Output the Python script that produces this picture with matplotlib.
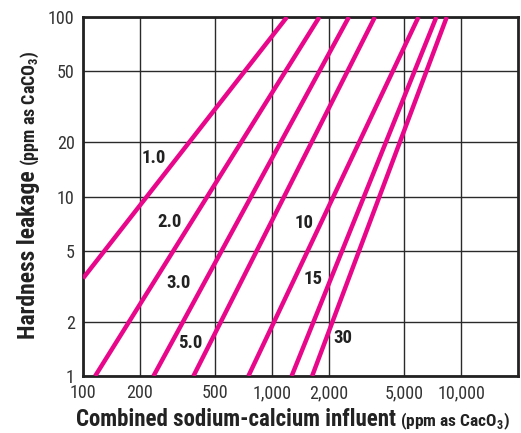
import matplotlib
matplotlib.use('Agg')
import matplotlib.pyplot as plt
from matplotlib import font_manager
from matplotlib.ticker import NullLocator

# pick a narrow sans if one is installed
names = {f.name for f in font_manager.fontManager.ttflist}
narrow = next((n for n in ['Liberation Sans Narrow', 'DejaVu Sans Condensed', 'Roboto Condensed']
               if n in names), 'Liberation Sans')
plt.rcParams['font.family'] = [narrow, 'DejaVu Sans']
plt.rcParams['mathtext.fontset'] = 'custom'
plt.rcParams['mathtext.rm'] = narrow
plt.rcParams['mathtext.bf'] = narrow + ':bold'

# one line per level, end points
levels = ['1.0', '2.0', '3.0', '5.0', '10', '15', '30']
x_start = [100, 116, 236, 384, 750, 1270, 1630]
y_start = [3.5, 1, 1, 1, 1, 1, 1]
x_end = [1200, 1780, 2550, 3500, 5950, 7400, 8400]
y_end = [100, 100, 100, 100, 100, 100, 100]
label_x = [236, 286, 322, 370, 1480, 1650, 2380]
label_y = [16.4, 7.2, 3.3, 1.53, 7.1, 3.47, 1.62]

xticks = [100, 200, 500, 1000, 2000, 5000, 10000]
xticklabels = ['100', '200', '500', '1,000', '2,000', '5,000', '10,000']
yticks = [1, 2, 5, 10, 20, 50, 100]
yticklabels = ['1', '2', '5', '10', '20', '50', '100']

W, H = 521, 433
fig = plt.figure(figsize=(W / 100, H / 100), dpi=100)
ax = fig.add_axes([83 / W, 1 - 376 / H, 435 / W, 359 / H])
ax.set_xscale('log')
ax.set_yscale('log')
ax.set_xlim(100, 20000)
ax.set_ylim(1, 100)

ax.set_xticks(xticks)
ax.set_xticklabels(xticklabels)
ax.set_yticks(yticks)
ax.set_yticklabels(yticklabels)
ax.xaxis.set_minor_locator(NullLocator())
ax.yaxis.set_minor_locator(NullLocator())
ax.tick_params(length=0, labelsize=13, colors='#333333', pad=6)
ax.grid(True, color='#2a2a2a', lw=1.0)
for s in ax.spines.values():
    s.set_linewidth(2)
    s.set_color('#222222')

pink = '#e8068a'
for i in range(len(levels)):
    ax.plot([x_start[i], x_end[i]], [y_start[i], y_end[i]], color=pink, lw=3.2,
            solid_capstyle='butt', zorder=3)
    ax.text(label_x[i], label_y[i], levels[i], fontsize=13.5, fontweight='bold',
            color='#222222', ha='center', va='center', zorder=4)

fig.canvas.draw()
r = fig.canvas.get_renderer()

# y label: big part then small part
t1 = fig.text(35 / W, 1 - 339 / H, 'Hardness leakage', rotation=90, rotation_mode='anchor',
              ha='left', va='baseline', fontsize=17, fontweight='bold', color='#222222')
bb = t1.get_window_extent(r)
fig.text(35 / W, (bb.y1 + 4) / H, r'(ppm as CaCO$_\mathbf{3}$)', rotation=90,
         rotation_mode='anchor', ha='left', va='baseline', fontsize=13,
         fontweight='bold', color='#222222')

# x label
t3 = fig.text(76 / W, 1 - 426 / H, 'Combined sodium-calcium influent', ha='left',
              va='baseline', fontsize=16.5, fontweight='bold', color='#222222')
bb = t3.get_window_extent(r)
fig.text((bb.x1 + 4) / W, 1 - 426 / H, r'(ppm as CacO$_\mathbf{3}$)', ha='left',
         va='baseline', fontsize=12.5, fontweight='bold', color='#222222')

fig.savefig('out.png', dpi=100)
